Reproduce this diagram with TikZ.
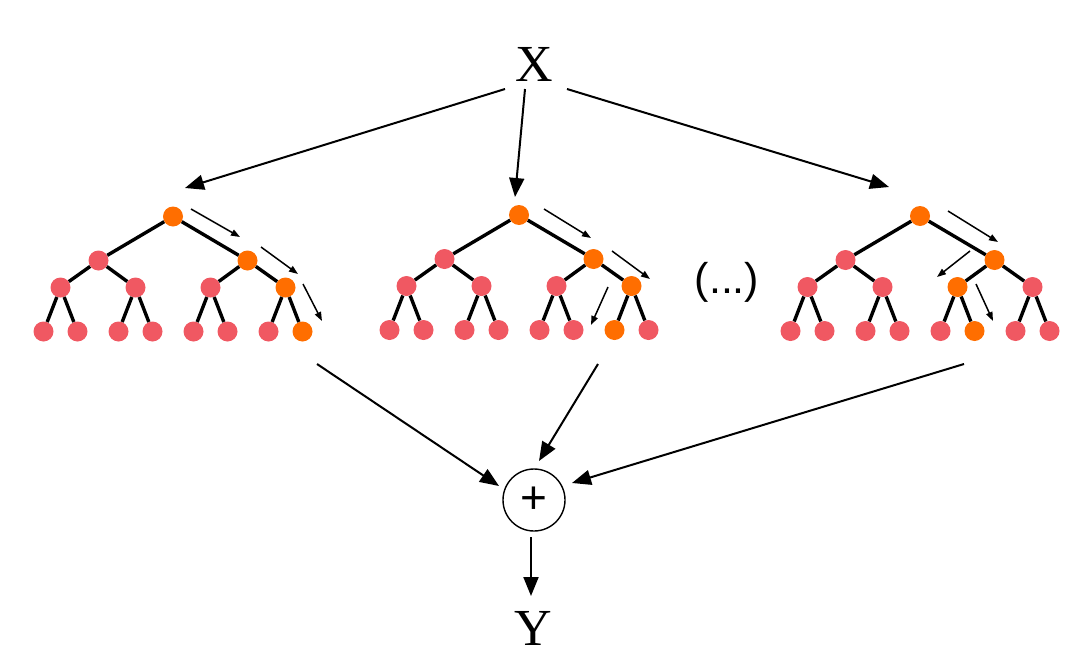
\documentclass[tikz,border=0pt]{standalone}
\usepackage{fontspec}
\setmainfont{Liberation Serif}
\newfontfamily\sansf{Liberation Sans}
\usetikzlibrary{arrows.meta,calc}
\definecolor{pinkc}{RGB}{240,88,98}
\definecolor{orangec}{RGB}{255,110,0}
\tikzset{
  treenode/.style={circle,minimum size=20pt,inner sep=0pt,draw=none,fill=#1},
  edge/.style={line width=3.4pt,black},
  bigarrow/.style={line width=2pt,-{Triangle[length=19pt,width=15pt]}},
  smallarrow/.style={line width=1.5pt,-{Triangle[length=9pt,width=6.5pt]}},
  lbl/.style={inner sep=0pt,font=\fontsize{52}{52}\selectfont}
}
\newcommand\mytree[5]{%
  % #1 prefix, #2 root x, #3 root y, #4 orange L2 index, #5 orange leaf index
  \node[treenode=orangec] (#1r) at (#2,#3) {};
  \node[treenode=pinkc] (#1a1) at (#2-74.5,#3+44) {};
  \node[treenode=orangec] (#1a2) at (#2+74.5,#3+44) {};
  \foreach \i in {1,...,4} {
    \ifnum\i=#4 \def\col{orangec}\else\def\col{pinkc}\fi
    \pgfmathsetmacro\px{#2+(\i-2.5)*75}
    \node[treenode=\col] (#1b\i) at (\px,#3+71) {};
  }
  \foreach \i in {1,...,8} {
    \ifnum\i=#5 \def\col{orangec}\else\def\col{pinkc}\fi
    \pgfmathtruncatemacro\p{(\i+1)/2}
    \pgfmathsetmacro\px{#2+(\p-2.5)*75+(isodd(\i)?-17:17)}
    \node[treenode=\col] (#1c\i) at (\px,#3+115) {};
  }
  \draw[edge] (#1r) -- (#1a1);
  \draw[edge] (#1r) -- (#1a2);
  \draw[edge] (#1a1) -- (#1b1);
  \draw[edge] (#1a1) -- (#1b2);
  \draw[edge] (#1a2) -- (#1b3);
  \draw[edge] (#1a2) -- (#1b4);
  \foreach \i in {1,...,8} {
    \pgfmathtruncatemacro\p{(\i+1)/2}
    \draw[edge] (#1b\p) -- (#1c\i);
  }
}
\begin{document}
\begin{tikzpicture}[x=1pt,y=-1pt]
\useasboundingbox (0,0) rectangle (1080,656);

% labels
\node[lbl] (X) at (534,64) {X};
\node[lbl] (Y) at (533,628) {Y};
\node[inner sep=0pt,font=\sansf\fontsize{43}{43}\selectfont] (dots) at (727,282) {(...)};
\node[circle,draw,line width=1.4pt,minimum size=62pt,inner sep=0pt,
      font=\sansf\fontsize{46}{46}\selectfont] (plus) at (534,500) {+};

% trees
\mytree{t1}{173}{216.5}{4}{8}
\mytree{t2}{519}{215}{4}{7}
\mytree{t3}{920}{216}{3}{6}

% arrows from X
\coordinate (xs1) at (505,89);
\coordinate (xs2) at (525,89);
\coordinate (xs3) at (567,89);
\coordinate (xe1) at (185,188);
\coordinate (xe2) at (515,197);
\coordinate (xe3) at (889,187);
\draw[bigarrow] (xs1) -- (xe1);
\draw[bigarrow] (xs2) -- (xe2);
\draw[bigarrow] (xs3) -- (xe3);

% arrows to plus
\coordinate (ps1) at (317,364);
\coordinate (ps2) at (598,364);
\coordinate (ps3) at (964,364);
\coordinate (pe1) at (499,486);
\coordinate (pe2) at (539,461);
\coordinate (pe3) at (572,483);
\draw[bigarrow] (ps1) -- (pe1);
\draw[bigarrow] (ps2) -- (pe2);
\draw[bigarrow] (ps3) -- (pe3);

% plus to Y
\coordinate (ys) at (531,537);
\coordinate (ye) at (531,596);
\draw[bigarrow] (ys) -- (ye);

% small arrows tree 1
\coordinate (a11) at (191,209); \coordinate (a12) at (240,237);
\coordinate (a13) at (261,247); \coordinate (a14) at (298,274);
\coordinate (a15) at (303,284); \coordinate (a16) at (322,321);
\draw[smallarrow] (a11) -- (a12);
\draw[smallarrow] (a13) -- (a14);
\draw[smallarrow] (a15) -- (a16);

% small arrows tree 2
\coordinate (a21) at (544,209); \coordinate (a22) at (591,238);
\coordinate (a23) at (612,251); \coordinate (a24) at (650,279);
\coordinate (a25) at (608,287); \coordinate (a26) at (591,325);
\draw[smallarrow] (a21) -- (a22);
\draw[smallarrow] (a23) -- (a24);
\draw[smallarrow] (a25) -- (a26);

% small arrows tree 3
\coordinate (a31) at (948,211); \coordinate (a32) at (998,242);
\coordinate (a33) at (970,251); \coordinate (a34) at (937,277);
\coordinate (a35) at (976,284); \coordinate (a36) at (993,321);
\draw[smallarrow] (a31) -- (a32);
\draw[smallarrow] (a33) -- (a34);
\draw[smallarrow] (a35) -- (a36);
\end{tikzpicture}
\end{document}
